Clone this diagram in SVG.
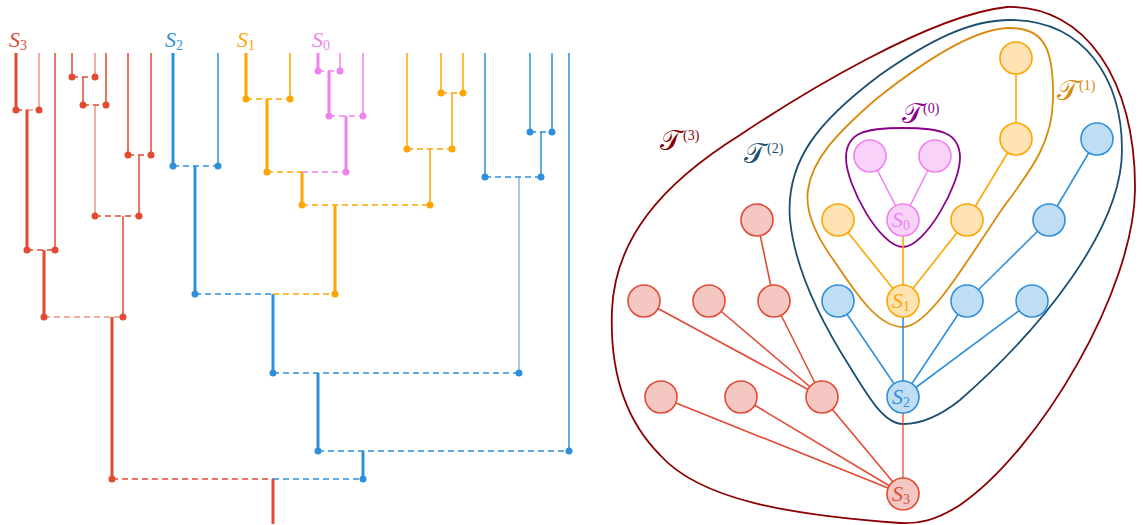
<svg xmlns="http://www.w3.org/2000/svg" width="1143" height="525" viewBox="0 0 1143 525">
<style>
.r{stroke:#E24A33;fill:none}
.b{stroke:#2E90DB;fill:none}
.o{stroke:#FFA500;fill:none}
.p{stroke:#EE82EE;fill:none}
.tk{stroke-width:3}
.tn{stroke-width:1.5}
.d{stroke-width:1.5;stroke-dasharray:6 4}
.l{opacity:0.6}
.dr{fill:#E24A33}
.db{fill:#2E90DB}
.do{fill:#FFA500}
.dp{fill:#EE82EE}
.lab{font-family:"Liberation Serif",serif;font-style:italic;font-size:22px}
.sub{font-style:normal;font-size:14px}
.nr{fill:#F4C7C2;stroke:#E24A33;stroke-width:1.6}
.nb{fill:#BFDEF3;stroke:#2E90DB;stroke-width:1.6}
.no{fill:#FFE3B2;stroke:#FFA500;stroke-width:1.6}
.np{fill:#F8D2F8;stroke:#EE82EE;stroke-width:1.6}
.er{stroke:#E24A33;stroke-width:1.6}
.eb{stroke:#2E90DB;stroke-width:1.6}
.eo{stroke:#FFA500;stroke-width:1.6}
.ep{stroke:#EE82EE;stroke-width:1.6}
.hull{fill:none;stroke-width:1.8}
.T{font-family:"Liberation Serif",serif;font-style:normal;font-size:28px}
.Tsup{font-family:"Liberation Serif",serif;font-style:normal;font-size:14px}
</style>
<g id="dendrogram">
<g id="labels-left">
<text class="lab" x="9" y="47" fill="#E24A33">S<tspan class="sub" dy="3">3</tspan></text>
<text class="lab" x="165" y="47" fill="#2E90DB">S<tspan class="sub" dy="3">2</tspan></text>
<text class="lab" x="237" y="47" fill="#FFA500">S<tspan class="sub" dy="3">1</tspan></text>
<text class="lab" x="312" y="47" fill="#EE82EE">S<tspan class="sub" dy="3">0</tspan></text>
</g>
<g id="red-branches">
<path class="r tk" d="M16 53V110M27 110V250M44 250V317M112 317V479M273 479V524"/>
<path class="r tn l" d="M39 53V110"/>
<path class="r tn" d="M55 53V250M72 53V77M83 77V105M106 53V105M128 53V155M151 53V155M139 155V216M123 216V317"/>
<path class="r tn l" d="M95 53V77M95 105V216"/>
<path class="r d" d="M16 110H27M72 77H95M83 105H106M128 155H151M95 216H139M27 250H55M112 479H273"/>
<path class="r d l" d="M27 110H39M44 317H123"/>
<g class="dr">
<circle cx="16" cy="110" r="3.5"/><circle cx="39" cy="110" r="3.5"/>
<circle cx="72" cy="77" r="3.5"/><circle cx="95" cy="77" r="3.5"/>
<circle cx="83" cy="105" r="3.5"/><circle cx="106" cy="105" r="3.5"/>
<circle cx="128" cy="155" r="3.5"/><circle cx="151" cy="155" r="3.5"/>
<circle cx="95" cy="216" r="3.5"/><circle cx="139" cy="216" r="3.5"/>
<circle cx="27" cy="250" r="3.5"/><circle cx="55" cy="250" r="3.5"/>
<circle cx="44" cy="317" r="3.5"/><circle cx="123" cy="317" r="3.5"/>
<circle cx="112" cy="479" r="3.5"/>
</g>
</g>
<g id="blue-branches">
<path class="b tk" d="M173 53V166M195 166V294M273 294V373M318 373V451M363 451V479"/>
<path class="b tn" d="M218 53V166M485 53V177M530 53V132M552 53V132M541 132V177M569 53V451"/>
<path class="b tn l" d="M519 177V373"/>
<path class="b d" d="M273 479H363M173 166H218M195 294H273M273 373H519M318 451H569M485 177H541M530 132H552"/>
<g class="db">
<circle cx="363" cy="479" r="3.5"/>
<circle cx="173" cy="166" r="3.5"/><circle cx="218" cy="166" r="3.5"/>
<circle cx="195" cy="294" r="3.5"/>
<circle cx="273" cy="373" r="3.5"/><circle cx="519" cy="373" r="3.5"/>
<circle cx="318" cy="451" r="3.5"/><circle cx="569" cy="451" r="3.5"/>
<circle cx="485" cy="177" r="3.5"/><circle cx="541" cy="177" r="3.5"/>
<circle cx="530" cy="132" r="3.5"/><circle cx="552" cy="132" r="3.5"/>
</g>
</g>
<g id="orange-branches">
<path class="o tk" d="M246 53V99M267 99V172M302 172V205M335 205V294"/>
<path class="o tn" d="M290 53V99M407 53V149M441 53V93M463 53V93M452 93V149M430 149V205"/>
<path class="o d" d="M273 294H335M246 99H290M267 172H302M302 205H430M407 149H452M441 93H463"/>
<g class="do">
<circle cx="335" cy="294" r="3.5"/>
<circle cx="246" cy="99" r="3.5"/><circle cx="290" cy="99" r="3.5"/>
<circle cx="267" cy="172" r="3.5"/>
<circle cx="302" cy="205" r="3.5"/><circle cx="430" cy="205" r="3.5"/>
<circle cx="407" cy="149" r="3.5"/><circle cx="452" cy="149" r="3.5"/>
<circle cx="441" cy="93" r="3.5"/><circle cx="463" cy="93" r="3.5"/>
</g>
</g>
<g id="pink-branches">
<path class="p tk" d="M318 53V71M329 71V116M346 116V172"/>
<path class="p tn" d="M340 53V71M363 53V116"/>
<path class="p d" d="M302 172H346M318 71H340M329 116H363"/>
<g class="dp">
<circle cx="346" cy="172" r="3.5"/>
<circle cx="318" cy="71" r="3.5"/><circle cx="340" cy="71" r="3.5"/>
<circle cx="329" cy="116" r="3.5"/><circle cx="363" cy="116" r="3.5"/>
</g>
</g>
</g>
<g id="hulls">
<path id="hull-T3" class="hull" stroke="#8B0000" d="M1007 7 C1085 5 1136 80 1135 190 C1134 290 1040 450 960 505 C935 521 918 524 900 523 C790 515 700 500 660 455 C620 415 610 360 612 310 C615 240 660 185 740 135 C800 95 930 15 1007 7 Z"/>
<path id="hull-T2" class="hull" stroke="#1B4F72" d="M1010 20 C1085 20 1122 80 1122 150 C1122 230 1040 330 960 400 C935 420 915 424 903 424 C885 424 870 400 850 367 C820 320 795 270 790 220 C785 160 820 120 880 75 C930 40 970 20 1010 20 Z"/>
<path id="hull-T1" class="hull" stroke="#D98A0B" d="M1010 28 C1045 28 1054 50 1053 100 C1052 140 1035 165 1005 205 C970 255 930 327 903 327 C880 327 860 300 835 262 C815 235 805 210 808 190 C812 160 835 135 875 100 C925 60 975 28 1010 28 Z"/>
<path id="hull-T0" class="hull" stroke="#8B008B" d="M903 128 C940 128 960 132 960 158 C960 185 925 247 903 247 C880 247 846 185 846 158 C846 132 866 128 903 128 Z"/>
</g>
<g id="hull-labels">
<text class="T" x="660" y="150" fill="#8B0000">𝒯<tspan class="Tsup" x="683" y="140">(3)</tspan></text>
<text class="T" x="744" y="163" fill="#1B4F72">𝒯<tspan class="Tsup" x="767" y="153">(2)</tspan></text>
<text class="T" x="1057" y="100" fill="#D98A0B">𝒯<tspan class="Tsup" x="1079" y="90">(1)</tspan></text>
<text class="T" x="902" y="123" fill="#8B008B">𝒯<tspan class="Tsup" x="923" y="113">(0)</tspan></text>
</g>
<g id="connectors">
<line class="eo" x1="1016" y1="58" x2="1016" y2="139"/>
<line class="eo" x1="1016" y1="139" x2="967" y2="220"/>
<line class="eo" x1="967" y1="220" x2="903" y2="301"/>
<line class="eo" x1="838" y1="220" x2="903" y2="301"/>
<line class="eo" x1="903" y1="220" x2="903" y2="301"/>
<line class="ep" x1="870" y1="156" x2="903" y2="220"/>
<line class="ep" x1="935" y1="156" x2="903" y2="220"/>
<line class="eb" x1="1097" y1="139" x2="1049" y2="220"/>
<line class="eb" x1="1049" y1="220" x2="967" y2="301"/>
<line class="eb" x1="967" y1="301" x2="903" y2="397"/>
<line class="eb" x1="1032" y1="301" x2="903" y2="397"/>
<line class="eb" x1="838" y1="301" x2="903" y2="397"/>
<line class="eb" x1="903" y1="301" x2="903" y2="397"/>
<line class="er" x1="757" y1="220" x2="774" y2="301"/>
<line class="er" x1="644" y1="301" x2="822" y2="397"/>
<line class="er" x1="709" y1="301" x2="822" y2="397"/>
<line class="er" x1="774" y1="301" x2="822" y2="397"/>
<line class="er" x1="822" y1="397" x2="903" y2="494"/>
<line class="er" x1="661" y1="397" x2="903" y2="494"/>
<line class="er" x1="741" y1="397" x2="903" y2="494"/>
<line class="er" x1="903" y1="397" x2="903" y2="494" opacity="0.8"/>
</g>
<g id="nodes">
<circle id="n-o-top" class="no" cx="1016" cy="58" r="16"/>
<circle id="n-o-2" class="no" cx="1016" cy="139" r="16"/>
<circle id="n-o-3" class="no" cx="967" cy="220" r="16"/>
<circle id="n-o-4" class="no" cx="838" cy="220" r="16"/>
<circle id="n-p-1" class="np" cx="870" cy="156" r="16"/>
<circle id="n-p-2" class="np" cx="935" cy="156" r="16"/>
<g id="n-S0"><circle class="np" cx="903" cy="220" r="16"/><text class="lab" x="892" y="227" fill="#EE82EE">S<tspan class="sub" dy="3">0</tspan></text></g>
<circle id="n-b-1" class="nb" cx="1097" cy="139" r="16"/>
<circle id="n-b-2" class="nb" cx="1049" cy="220" r="16"/>
<circle id="n-b-3" class="nb" cx="967" cy="301" r="16"/>
<circle id="n-b-4" class="nb" cx="1032" cy="301" r="16"/>
<circle id="n-b-5" class="nb" cx="838" cy="301" r="16"/>
<g id="n-S1"><circle class="no" cx="903" cy="301" r="16"/><text class="lab" x="892" y="308" fill="#FFA500">S<tspan class="sub" dy="3">1</tspan></text></g>
<g id="n-S2"><circle class="nb" cx="903" cy="397" r="16"/><text class="lab" x="892" y="404" fill="#2E90DB">S<tspan class="sub" dy="3">2</tspan></text></g>
<circle id="n-r-1" class="nr" cx="757" cy="220" r="16"/>
<circle id="n-r-2" class="nr" cx="644" cy="301" r="16"/>
<circle id="n-r-3" class="nr" cx="709" cy="301" r="16"/>
<circle id="n-r-4" class="nr" cx="774" cy="301" r="16"/>
<circle id="n-r-5" class="nr" cx="661" cy="397" r="16"/>
<circle id="n-r-6" class="nr" cx="741" cy="397" r="16"/>
<circle id="n-r-7" class="nr" cx="822" cy="397" r="16"/>
<g id="n-S3"><circle class="nr" cx="903" cy="494" r="16"/><text class="lab" x="892" y="501" fill="#E24A33">S<tspan class="sub" dy="3">3</tspan></text></g>
</g>
</svg>
